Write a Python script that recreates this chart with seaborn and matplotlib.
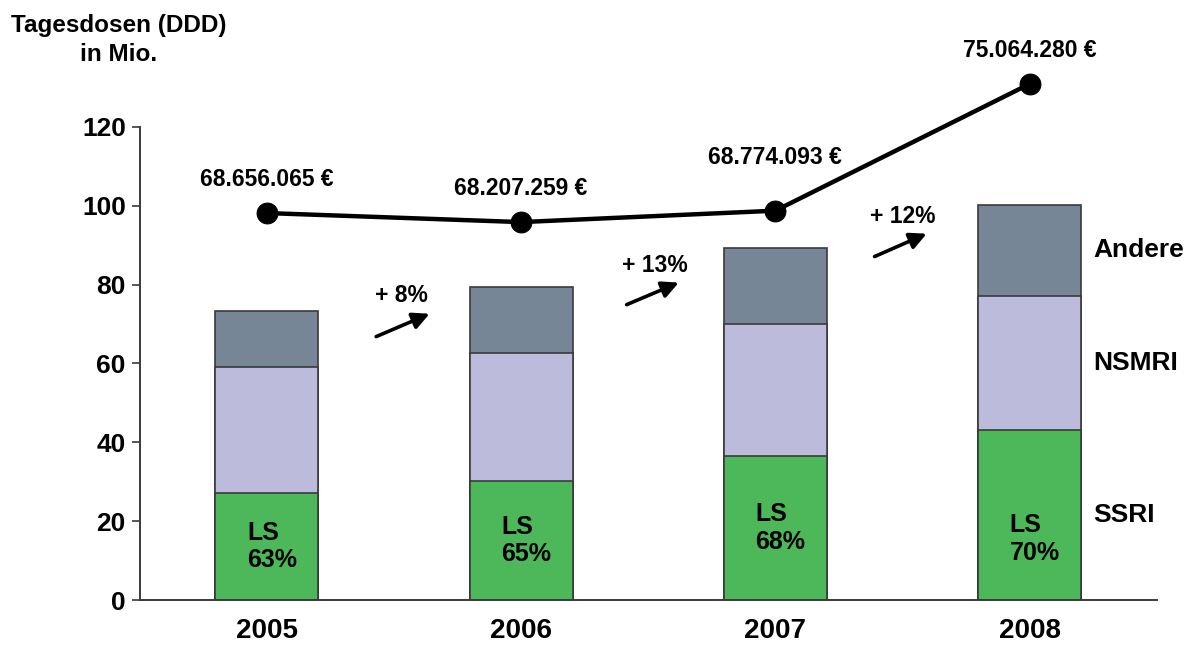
import numpy as np
import pandas as pd
import matplotlib
matplotlib.use("Agg")
import matplotlib.pyplot as plt
import seaborn as sns

# Daily doses (DDD) in millions, per substance class and year
years = ["2005", "2006", "2007", "2008"]
ssri = [27.2, 30.2, 36.5, 43.1]
nsmri = [31.9, 32.5, 33.6, 34.1]
andere = [14.3, 16.6, 19.2, 23.0]

# Shares of LS and year-on-year growth labels
ls_share = ["63%", "65%", "68%", "70%"]
growth = ["+ 8%", "+ 13%", "+ 12%"]

# Annual cost in euros
costs = [68656065, 68207259, 68774093, 75064280]
cost_labels = ["68.656.065 €", "68.207.259 €", "68.774.093 €", "75.064.280 €"]

class_names = ["SSRI", "NSMRI", "Andere"]
colors = {"SSRI": "#4cb85a", "NSMRI": "#bcbbdc", "Andere": "#778696"}

sns.set_style("white")
plt.rcParams["font.family"] = ["Liberation Sans", "DejaVu Sans"]
plt.rcParams["font.weight"] = "bold"

fig = plt.figure(figsize=(11.84, 6.48), dpi=100)
ax = fig.add_axes([0.118, 0.074, 0.859, 0.852])

df = pd.DataFrame({"year": years, "SSRI": ssri, "NSMRI": nsmri, "Andere": andere})
df["c_SSRI"] = df["SSRI"]
df["c_NSMRI"] = df["SSRI"] + df["NSMRI"]
df["c_Andere"] = df["c_NSMRI"] + df["Andere"]

# Stacked bars: draw cumulative totals from the top layer down
for name in ["Andere", "NSMRI", "SSRI"]:
    sns.barplot(data=df, x="year", y="c_" + name, color=colors[name], width=0.405,
                edgecolor="#3a3a3a", linewidth=1.2, saturation=1, ax=ax)

ax.set_xlim(-0.5, 3.5)
ax.set_ylim(0, 140)
ax.set_xlabel("")
ax.set_ylabel("")

for s in ["top", "right"]:
    ax.spines[s].set_visible(False)
for s in ["left", "bottom"]:
    ax.spines[s].set_color("#3a3a3a")
    ax.spines[s].set_linewidth(1.4)
ax.spines["left"].set_bounds(0, 120)

ax.set_yticks(np.arange(0, 121, 20))
ax.tick_params(axis="y", direction="out", length=6, width=1.2, color="#3a3a3a",
               labelsize=19, pad=4, labelcolor="#000000")
ax.set_xticks(range(len(years)))
ax.set_xticklabels(years, fontsize=20, fontweight="bold", color="#000000")
ax.tick_params(axis="x", which="major", length=0, pad=13)
ax.set_xticks(np.arange(-0.5, 3.6, 1.0), minor=True)
ax.tick_params(axis="x", which="minor", direction="out", length=8, width=1.2,
               color="#3a3a3a")
for lbl in ax.get_yticklabels():
    lbl.set_fontweight("bold")

# LS share inside the green segments
ls_y = [13.6, 15.1, 18.2, 15.5]
for i, (txt, y) in enumerate(zip(ls_share, ls_y)):
    ax.text(i + 0.02, y, "LS\n" + txt, ha="center", va="center", multialignment="left",
            fontsize=18, fontweight="bold", color="#000000", linespacing=1.2)

# Class labels to the right of the last bar
last = df.iloc[-1]
seg_mid = {
    "SSRI": last["SSRI"] / 2,
    "NSMRI": last["SSRI"] + last["NSMRI"] / 2,
    "Andere": last["c_NSMRI"] + last["Andere"] / 2,
}
for name in class_names:
    ax.text(3.25, seg_mid[name], name, ha="left", va="center", fontsize=19,
            fontweight="bold", color="#000000")

# Growth arrows between bars
arrow_pos = [((0.43, 66.8), (0.64, 72.6)), ((1.415, 74.9), (1.62, 80.5)),
             ((2.39, 87.1), (2.595, 92.9))]
text_pos = [(0.53, 77.2), (1.525, 84.8), (2.50, 97.2)]
for (start, end), (tx, ty), g in zip(arrow_pos, text_pos, growth):
    ax.annotate("", xy=end, xytext=start,
                arrowprops=dict(arrowstyle="-|>,head_length=1.0,head_width=0.5",
                                color="#000000", lw=2.6, shrinkA=0, shrinkB=0))
    ax.text(tx, ty, g, ha="center", va="center", fontsize=16.5, fontweight="bold",
            color="#000000")

# Cost line on a hidden secondary axis (millions of euros)
ax2 = ax.twinx()
costs_m = np.array(costs) / 1e6
sns.lineplot(x=np.arange(len(years)), y=costs_m, ax=ax2, color="#000000", lw=3.2,
             marker="o", markersize=15, markeredgecolor="#000000")
ax2.set_ylim(49.45, 76.85)
ax2.set_axis_off()

label_offsets = [24, 24, 38, 24]
for i, (v, txt) in enumerate(zip(costs_m, cost_labels)):
    ax2.annotate(txt, xy=(i, v), xytext=(0, label_offsets[i]), textcoords="offset points",
                 ha="center", va="center", fontsize=16.5, fontweight="bold", color="#000000")

fig.text(119 / 1184, 1 - 40 / 648, "Tagesdosen (DDD)\nin Mio.", ha="center", va="center",
         multialignment="center", fontsize=17.5, fontweight="bold", color="#000000",
         linespacing=1.3)

fig.savefig("out.png", dpi=100)
